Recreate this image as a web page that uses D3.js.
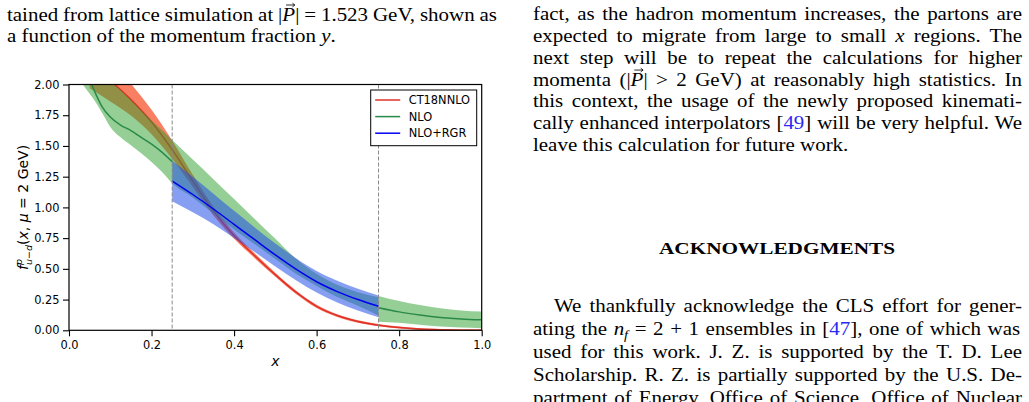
<!DOCTYPE html>
<html>
<head>
<meta charset="utf-8">
<script src="https://cdn.jsdelivr.net/npm/d3@7"></script>
<style>
	body { margin: 0; background: #fff; }
	svg { display: block; }
	.page text { font-family: "Liberation Serif", "DejaVu Serif", serif; font-size: 19.5px; fill: #000; }
	.chart text { font-family: "DejaVu Sans", sans-serif; font-size: 11.4px; fill: #000; }
	.it { font-style: italic; }
	.ref { fill: #2a2af0; }
</style>
</head>
<body>
<div id="frame"></div>
<script>
//---- data ----
//CT18NNLO (red), central value and half width of the band
var redX   = [0.05, 0.1, 0.15, 0.2, 0.25, 0.3, 0.35, 0.4, 0.45, 0.5, 0.55, 0.6, 0.65, 0.7, 0.75, 0.8, 0.85, 0.9, 0.95, 1.0];
var redMid = [2.17, 2.032, 1.877, 1.695, 1.47, 1.215, 0.97, 0.77, 0.607, 0.452, 0.31, 0.195, 0.12, 0.072, 0.042, 0.022, 0.01, 0.004, 0.001, 0.0];
var redErr = [0.2, 0.17, 0.13, 0.1, 0.075, 0.05, 0.035, 0.025, 0.02, 0.016, 0.014, 0.013, 0.011, 0.01, 0.009, 0.008, 0.007, 0.006, 0.005, 0.005];

//NLO (green), band split in two pieces at x = 0.75
var greenX    = [0, 0.02, 0.04, 0.06, 0.08, 0.1, 0.125, 0.15, 0.175, 0.2, 0.225, 0.25, 0.3, 0.35, 0.4, 0.45, 0.5, 0.55, 0.6, 0.65, 0.7, 0.75];
var greenMid  = [2.5, 2.3, 2.13, 1.96, 1.82, 1.735, 1.67, 1.625, 1.57, 1.515, 1.45, 1.372, 1.24, 1.11, 0.97, 0.82, 0.66, 0.52, 0.4, 0.31, 0.24, 0.184];
var greenLow  = [2.25, 2.07, 1.97, 1.88, 1.77, 1.655, 1.57, 1.505, 1.44, 1.37, 1.29, 1.196, 1.08, 0.95, 0.82, 0.7, 0.58, 0.46, 0.36, 0.27, 0.2, 0.12];
var greenHigh = [2.6, 2.45, 2.35, 2.26, 2.18, 2.04, 1.955, 1.875, 1.79, 1.71, 1.63, 1.548, 1.39, 1.229, 1.068, 0.906, 0.744, 0.582, 0.46, 0.37, 0.31, 0.268];
var tailX     = [0.75, 0.8, 0.85, 0.9, 0.95, 1.0];
var tailMid   = [0.184, 0.15, 0.125, 0.105, 0.092, 0.085];
var tailLow   = [0.07, 0.062, 0.045, 0.03, 0.022, 0.017];
var tailHigh  = [0.28, 0.238, 0.205, 0.18, 0.162, 0.153];

//NLO+RGR (blue)
var blueX   = [0.25, 0.3, 0.35, 0.4, 0.45, 0.5, 0.55, 0.6, 0.65, 0.7, 0.75];
var blueMid = [1.215, 1.105, 0.987, 0.862, 0.737, 0.613, 0.497, 0.395, 0.315, 0.25, 0.195];
var blueErr = [0.165, 0.145, 0.125, 0.11, 0.1, 0.093, 0.09, 0.088, 0.088, 0.088, 0.088];

var xMajor = [0, 0.2, 0.4, 0.6, 0.8, 1.0];
var yMajor = [0, 0.25, 0.5, 0.75, 1.0, 1.25, 1.5, 1.75, 2.0];
var cuts = [0.25, 0.75];
var legendNames = ["CT18NNLO", "NLO", "NLO+RGR"];
var legendColors = ["#e0302a", "#2a8a4a", "#0000f0"];

//---- page ----
var svg = d3.select("#frame").append("svg")
	.attr("width", 1029)
	.attr("height", 402);

var page = svg.append("g").attr("class", "page");

//horizontal stretch so the serif face gets close to the wider TeX face
var K = 1.075;

//runs of [text, class, dy]; x1 == null means the line is not justified
function writeLine(runs, x0, x1, yb)
{
	var g = page.append("g").attr("transform", "translate(" + x0 + "," + yb + ") scale(" + K + ",1)");
	var t = g.append("text");
	var pos = 0;
	var vecs = [];
	runs.forEach(function(r)
		{
			var s = t.append("tspan").attr("class", r[1] || null).text(r[0]);
			if (r[2]) s.attr("dy", r[2]);
			if (r[1] && r[1].indexOf("vec") >= 0) vecs.push(pos);
			pos += r[0].length;
		}
	);
	if (x1 !== null)
	{
		var w = t.node().getComputedTextLength();
		var spaces = t.text().split(" ").length - 1;
		if (spaces > 0)
		{
			t.style("word-spacing", (((x1 - x0) / K - w) / spaces) + "px");
		}
	}
	//small arrow drawn over the vector symbol
	vecs.forEach(function(i)
		{
			var e = t.node().getExtentOfChar(i);
			var cx = e.x + e.width / 2 + 1.5;
			g.append("path")
				.attr("d", "M" + (cx - 4) + ",-15.5H" + (cx + 4) + "M" + (cx + 2) + ",-17.3L" + (cx + 4.2) + ",-15.5L" + (cx + 2) + ",-13.7")
				.attr("fill", "none")
				.attr("stroke", "#000")
				.attr("stroke-width", 0.8);
		}
	);
	return t;
}

writeLine([["tained from lattice simulation at |"], ["P", "it vec"], ["| = 1.523 GeV, shown as"]], 7, 497, 20.5);
writeLine([["a function of the momentum fraction "], ["y", "it"], ["."]], 7, null, 42);

var rightLines = [
	[["fact, as the hadron momentum increases, the partons are"]],
	[["expected to migrate from large to small "], ["x", "it"], [" regions. The"]],
	[["next step will be to repeat the calculations for higher"]],
	[["momenta (|"], ["P", "it vec"], ["| > 2 GeV) at reasonably high statistics. In"]],
	[["this context, the usage of the newly proposed kinemati-"]],
	[["cally enhanced interpolators ["], ["49", "ref"], ["] will be very helpful. We"]],
	[["leave this calculation for future work."]]
];
rightLines.forEach(function(runs, i)
	{
		writeLine(runs, 533, i < rightLines.length - 1 ? 1022 : null, 20.3 + i * 21.75);
	}
);

page.append("text")
	.attr("x", 659).attr("y", 254)
	.attr("textLength", 236)
	.attr("lengthAdjust", "spacingAndGlyphs")
	.style("font-weight", "bold")
	.style("font-size", "16.5px")
	.text("ACKNOWLEDGMENTS");

var ackLines = [
	[["We thankfully acknowledge the CLS effort for gener-"]],
	[["ating the "], ["n", "it"], ["f", "it sub", 4], [" = 2 + 1 ensembles in [", null, -4], ["47", "ref"], ["], one of which was"]],
	[["used for this work. J. Z. is supported by the T. D. Lee"]],
	[["Scholarship. R. Z. is partially supported by the U.S. De-"]],
	[["partment of Energy, Office of Science, Office of Nuclear"]]
];
ackLines.forEach(function(runs, i)
	{
		writeLine(runs, i == 0 ? 554 : 533, 1022, 311.7 + i * 23);
	}
);
page.selectAll("tspan.sub").style("font-size", "13.5px");

//---- chart ----
var chart = svg.append("g").attr("class", "chart");

var x = d3.scaleLinear().domain([0, 1]).range([69, 481.7]);
var y = d3.scaleLinear().domain([0, 2]).range([330.3, 84.5]);

chart.append("clipPath").attr("id", "plotclip")
	.append("rect")
		.attr("x", x(0)).attr("y", y(2))
		.attr("width", x(1) - x(0)).attr("height", y(0) - y(2));

var plot = chart.append("g").attr("clip-path", "url(#plotclip)");

function rows(xs, mid, lo, hi)
{
	return xs.map(function(v, i){ return {x: v, m: mid[i], lo: lo[i], hi: hi[i]}; });
}

var redRows = rows(redX, redMid,
	redMid.map(function(v, i){ return v - redErr[i]; }),
	redMid.map(function(v, i){ return v + redErr[i]; }));
var greenRows = rows(greenX, greenMid, greenLow, greenHigh);
var tailRows = rows(tailX, tailMid, tailLow, tailHigh);
var blueRows = rows(blueX, blueMid,
	blueMid.map(function(v, i){ return v - blueErr[i]; }),
	blueMid.map(function(v, i){ return v + blueErr[i]; }));

var band = d3.area()
	.curve(d3.curveMonotoneX)
	.x(function(d){ return x(d.x); })
	.y0(function(d){ return y(d.lo); })
	.y1(function(d){ return y(d.hi); });

var line = d3.line()
	.curve(d3.curveMonotoneX)
	.x(function(d){ return x(d.x); })
	.y(function(d){ return y(d.m); });

//red under everything, green band over it, blue band on top
plot.append("path").attr("d", band(redRows)).attr("fill", "#f5542e").attr("fill-opacity", 0.75);
plot.append("path").attr("d", line(redRows)).attr("fill", "none").attr("stroke", legendColors[0]).attr("stroke-width", 1.5);

plot.append("path").attr("d", band(greenRows)).attr("fill", "#2ca02c").attr("fill-opacity", 0.5);
plot.append("path").attr("d", band(tailRows)).attr("fill", "#2ca02c").attr("fill-opacity", 0.5);

plot.append("path").attr("d", band(blueRows)).attr("fill", "#2450e8").attr("fill-opacity", 0.55);

plot.append("path")
	.attr("d", line(greenRows.filter(function(d){ return d.x <= 0.25; })))
	.attr("fill", "none").attr("stroke", legendColors[1]).attr("stroke-width", 1.5);
plot.append("path")
	.attr("d", line(tailRows))
	.attr("fill", "none").attr("stroke", legendColors[1]).attr("stroke-width", 1.5);
plot.append("path")
	.attr("d", line(blueRows))
	.attr("fill", "none").attr("stroke", legendColors[2]).attr("stroke-width", 1.5);

//dashed separators
chart.selectAll(".cut")
	.data(cuts)
	.enter()
		.append("line")
			.attr("class", "cut")
			.attr("x1", function(d){ return x(d); })
			.attr("x2", function(d){ return x(d); })
			.attr("y1", y(2))
			.attr("y2", y(0))
			.attr("stroke", "#8a8a8a")
			.attr("stroke-width", 1)
			.attr("stroke-dasharray", "4,2");

//axes: major + minor ticks
var gx = chart.append("g").attr("transform", "translate(0," + y(0) + ")");
gx.call(d3.axisBottom(x).tickValues(d3.range(0, 1.0001, 0.05)).tickSize(3.5).tickSizeOuter(0).tickFormat(""));
gx.call(d3.axisBottom(x).tickValues(xMajor).tickSize(6).tickSizeOuter(0).tickPadding(5).tickFormat(d3.format(".1f")));

var gy = chart.append("g").attr("transform", "translate(" + x(0) + ",0)");
gy.call(d3.axisLeft(y).tickValues(d3.range(0, 2.0001, 0.05)).tickSize(3.5).tickSizeOuter(0).tickFormat(""));
gy.call(d3.axisLeft(y).tickValues(yMajor).tickSize(6).tickSizeOuter(0).tickPadding(3.5).tickFormat(d3.format(".2f")));

chart.selectAll(".domain").remove();
chart.selectAll(".tick line").attr("stroke", "#000").attr("stroke-width", 1.1);
chart.selectAll(".tick text").attr("fill", "#000").attr("font-size", null).attr("font-family", null);

chart.append("rect")
	.attr("x", x(0)).attr("y", y(2))
	.attr("width", x(1) - x(0)).attr("height", y(0) - y(2))
	.attr("fill", "none")
	.attr("stroke", "#000")
	.attr("stroke-width", 1.2);

//axis labels
chart.append("text")
	.attr("x", (x(0) + x(1)) / 2)
	.attr("y", 365.5)
	.attr("text-anchor", "middle")
	.attr("class", "it")
	.style("font-size", "14px")
	.text("x");

var yl = chart.append("text")
	.attr("transform", "translate(28," + ((y(0) + y(2)) / 2) + ") rotate(-90)")
	.attr("text-anchor", "middle")
	.style("font-size", "14px");
yl.append("tspan").attr("class", "it").text("f");
yl.append("tspan").attr("class", "it").attr("dy", -6).style("font-size", "9.5px").text("p");
yl.append("tspan").attr("class", "it").attr("dx", -6).attr("dy", 9.5).style("font-size", "9.5px").text("u\u2212d");
yl.append("tspan").attr("dy", -3.5).text("(");
yl.append("tspan").attr("class", "it").text("x");
yl.append("tspan").text(", ");
yl.append("tspan").attr("class", "it").text("\u03BC");
yl.append("tspan").text(" = 2 GeV)");

//legend
var legend = chart.append("g").attr("transform", "translate(370.7,90)");
legend.append("rect")
	.attr("width", 106).attr("height", 55.7)
	.attr("fill", "#fff")
	.attr("stroke", "#000")
	.attr("stroke-width", 1);
var entry = legend.selectAll(".entry")
	.data(legendNames)
	.enter()
		.append("g")
			.attr("class", "entry")
			.attr("transform", function(d, i){ return "translate(0," + (10 + i * 16.6) + ")"; });
entry.append("line")
	.attr("x1", 4.5).attr("x2", 29.5)
	.attr("stroke", function(d, i){ return legendColors[i]; })
	.attr("stroke-width", 1.5);
entry.append("text")
	.attr("x", 38)
	.attr("dy", "0.36em")
	.text(function(d){ return d; });
</script>
</body>
</html>
